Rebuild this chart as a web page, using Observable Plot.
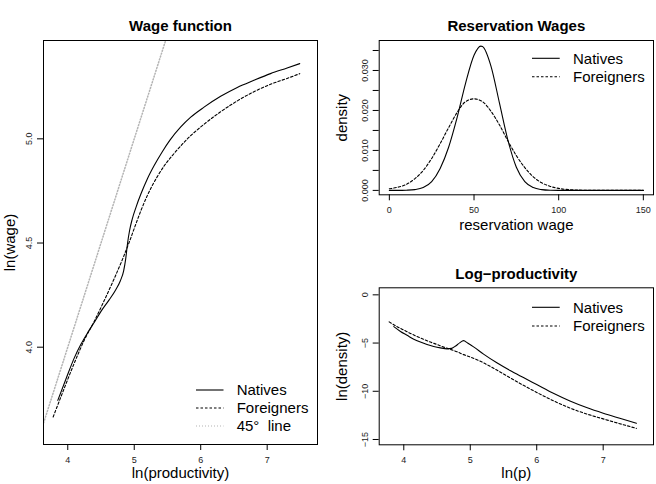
<!DOCTYPE html>
<html>
<head>
<meta charset="utf-8">
<script src="https://cdn.jsdelivr.net/npm/d3@7"></script>
<script src="https://cdn.jsdelivr.net/npm/@observablehq/plot@0.6"></script>
<style>
  body { margin: 0; background: #fff; }
  #fig { position: relative; width: 656px; height: 484px; overflow: hidden; background: #fff; }
  #fig svg { position: absolute; }
</style>
</head>
<body>
<div id="fig"></div>
<script>
// ---- Wage function: ln(wage) against ln(productivity) ----
const wageLnpNatives = [3.85, 3.97, 4.1, 4.2, 4.3, 4.4, 4.5, 4.62, 4.72, 4.79, 4.84, 4.87, 4.9, 4.93, 4.97, 5.03, 5.1, 5.2, 5.3, 5.42, 5.54, 5.7, 5.85, 6.05, 6.3, 6.55, 6.8, 7.05, 7.3, 7.49];
const wageLnwNatives = [3.745, 3.845, 3.95, 4.015, 4.07, 4.12, 4.172, 4.226, 4.275, 4.318, 4.365, 4.42, 4.50, 4.56, 4.615, 4.675, 4.735, 4.81, 4.872, 4.937, 4.995, 5.057, 5.104, 5.152, 5.204, 5.247, 5.281, 5.313, 5.34, 5.361];
const wageLnpForeigners = [3.78, 3.95, 4.1, 4.25, 4.4, 4.55, 4.7, 4.84, 4.92, 5.0, 5.1, 5.2, 5.34, 5.45, 5.6, 5.8, 6.05, 6.3, 6.55, 6.8, 7.05, 7.3, 7.49];
const wageLnwForeigners = [3.665, 3.805, 3.925, 4.035, 4.125, 4.225, 4.33, 4.435, 4.5, 4.57, 4.655, 4.73, 4.815, 4.87, 4.93, 5.0, 5.07, 5.13, 5.182, 5.226, 5.262, 5.29, 5.313];
const diagonalEnds = [3.5, 5.6];          // 45-degree line, y = x
const lnpTicks = [4, 5, 6, 7];
const lnwTicks = [4.0, 4.5, 5.0];

// ---- Reservation wage densities ----
const resWageNatives = [0, 5, 10, 15, 20, 25, 30, 35, 40, 45, 50, 54, 55, 60, 65, 70, 75, 80, 85, 90, 95, 100, 110, 120, 130, 140, 150];
const densNatives = [0, 0, 0.00005, 0.0002, 0.0007, 0.0022, 0.0055, 0.0108, 0.0182, 0.0268, 0.0338, 0.0361, 0.0360, 0.0311, 0.0219, 0.0126, 0.0058, 0.0022, 0.0007, 0.0002, 0.00004, 0, 0, 0, 0, 0, 0];
const resWageForeigners = [0, 5, 10, 15, 20, 25, 30, 35, 40, 45, 50, 55, 60, 65, 70, 75, 80, 85, 90, 95, 100, 110, 120, 130, 140, 150];
const densForeigners = [0.0004, 0.0008, 0.0015, 0.0029, 0.0050, 0.0080, 0.0117, 0.0157, 0.0195, 0.0222, 0.0229, 0.0222, 0.0198, 0.0164, 0.0124, 0.0087, 0.0057, 0.0034, 0.0019, 0.0010, 0.0005, 0.0001, 0, 0, 0, 0];
const resWageTicks = [0, 50, 100, 150];
const densTicks = [0, 0.005, 0.010, 0.015, 0.020, 0.025, 0.030, 0.035];
const densTickLabels = [0, 0.010, 0.020, 0.030];

// ---- Log-productivity densities ----
const lnpNatives = [3.85, 3.95, 4.05, 4.15, 4.25, 4.35, 4.45, 4.55, 4.65, 4.72, 4.78, 4.84, 4.9, 4.96, 5.05, 5.2, 5.4, 5.6, 5.8, 6.0, 6.25, 6.5, 6.75, 7.0, 7.25, 7.5];
const lnDensNatives = [-3.3, -3.8, -4.2, -4.6, -4.9, -5.15, -5.35, -5.5, -5.6, -5.55, -5.3, -4.98, -4.75, -5.0, -5.4, -6.15, -7.05, -7.85, -8.58, -9.3, -10.2, -11.0, -11.68, -12.27, -12.8, -13.32];
const lnpForeigners = [3.78, 3.9, 4.0, 4.1, 4.2, 4.3, 4.4, 4.5, 4.6, 4.7, 4.8, 4.9, 5.0, 5.1, 5.2, 5.3, 5.4, 5.6, 5.8, 6.0, 6.25, 6.5, 6.75, 7.0, 7.25, 7.5];
const lnDensForeigners = [-2.8, -3.3, -3.65, -4.0, -4.32, -4.62, -4.9, -5.15, -5.42, -5.65, -5.9, -6.2, -6.45, -6.72, -7.05, -7.42, -7.8, -8.6, -9.38, -10.12, -10.98, -11.74, -12.35, -12.86, -13.36, -13.85];
const lnDensTicks = [0, -5, -10, -15];

const groups = ["Natives", "Foreigners"];
const wageLegend = ["Natives", "Foreigners", "45\u00B0\u00A0\u00A0line"];

const zip = (xs, ys) => xs.map((x, i) => ({x, y: ys[i]}));
const font = '"Liberation Sans", Arial, Helvetica, sans-serif';
const dash = "2.5,2";
const dots = "1,2";
const minus = (s) => s.replace("-", "\u2212");
const common = {style: {fontFamily: font, background: "transparent", color: "#000", overflow: "visible"}};

function tickMarks(xTicks, yTicks, yLabels, yFormat, yLabelDx) {
  return [
    Plot.axisX(xTicks, {tickSize: 6, tickPadding: 6, fontSize: 9, label: null, tickFormat: d => minus(String(d)), fill: "#222"}),
    Plot.axisY(yTicks, {tickSize: 6, label: null, tickFormat: () => ""}),
    Plot.text(yLabels, {y: d => d, text: yFormat, frameAnchor: "left", textAnchor: "middle", dx: yLabelDx, rotate: -90, fontSize: 9, fill: "#222"})
  ];
}

function titles(title, xLabel, yLabel, titleDy, xLabelDy, yLabelDx) {
  return [
    Plot.text([title], {text: d => d, frameAnchor: "top", dy: titleDy, fontSize: 15, fontWeight: "bold"}),
    Plot.text([xLabel], {text: d => d, frameAnchor: "bottom", dy: xLabelDy, fontSize: 15}),
    Plot.text([yLabel], {text: d => d, frameAnchor: "left", textAnchor: "middle", dx: yLabelDx, rotate: -90, fontSize: 15})
  ];
}

const fig = document.getElementById("fig");

// Left panel: wage function
const wagePlot = Plot.plot({
  ...common,
  width: 328, height: 484,
  marginTop: 40, marginRight: 11, marginBottom: 40, marginLeft: 43,
  x: {domain: [3.635, 7.757]},
  y: {domain: [3.533, 5.472]},
  marks: [
    Plot.line(zip(diagonalEnds, diagonalEnds), {x: "x", y: "y", stroke: "#b4b4b4", strokeDasharray: dots, clip: true}),
    Plot.line(zip(wageLnpForeigners, wageLnwForeigners), {x: "x", y: "y", stroke: "#000", strokeWidth: 1.1, strokeDasharray: dash, curve: "monotone-x"}),
    Plot.line(zip(wageLnpNatives, wageLnwNatives), {x: "x", y: "y", stroke: "#000", strokeWidth: 1.1, curve: "monotone-x"}),
    Plot.frame({stroke: "#000"}),
    ...tickMarks(lnpTicks, lnwTicks, lnwTicks, d => d.toFixed(1), -14),
    ...titles("Wage function", "ln(productivity)", "ln(wage)", -20, 33, -33)
  ]
});
wagePlot.style.left = "0px"; wagePlot.style.top = "0px";
fig.appendChild(wagePlot);

// Top right: reservation wage densities
const resPlot = Plot.plot({
  ...common,
  width: 328, height: 250,
  marginTop: 40, marginRight: 3, marginBottom: 55.7, marginLeft: 50.7,
  x: {domain: [-6, 156]},
  y: {domain: [-0.0011, 0.0375]},
  marks: [
    Plot.line(zip(resWageForeigners, densForeigners), {x: "x", y: "y", stroke: "#000", strokeWidth: 1.1, strokeDasharray: dash, curve: "monotone-x"}),
    Plot.line(zip(resWageNatives, densNatives), {x: "x", y: "y", stroke: "#000", strokeWidth: 1.1, curve: "monotone-x"}),
    Plot.frame({stroke: "#000"}),
    ...tickMarks(resWageTicks, densTicks, densTickLabels, d => d.toFixed(3), -14.5),
    ...titles("Reservation Wages", "reservation wage", "density", -20, 35, -37)
  ]
});
resPlot.style.left = "328px"; resPlot.style.top = "0px";
fig.appendChild(resPlot);

// Bottom right: log-productivity densities
const lnpPlot = Plot.plot({
  ...common,
  width: 328, height: 234,
  marginTop: 37.3, marginRight: 3, marginBottom: 39.7, marginLeft: 50.7,
  x: {domain: [3.63, 7.757]},
  y: {domain: [-15.55, 0.73]},
  marks: [
    Plot.line(zip(lnpForeigners, lnDensForeigners), {x: "x", y: "y", stroke: "#000", strokeWidth: 1.1, strokeDasharray: dash, curve: "monotone-x"}),
    Plot.line(zip(lnpNatives, lnDensNatives), {x: "x", y: "y", stroke: "#000", strokeWidth: 1.1, curve: "monotone-x"}),
    Plot.frame({stroke: "#000"}),
    ...tickMarks(lnpTicks, lnDensTicks, lnDensTicks, d => minus(String(d)), -14),
    ...titles("Log\u2212productivity", "ln(p)", "ln(density)", -19, 33, -37)
  ]
});
lnpPlot.style.left = "328px"; lnpPlot.style.top = "250px";
fig.appendChild(lnpPlot);

// Legends (line key + label), one block per panel
const legendSvg = d3.select(fig).append("svg")
  .attr("width", 656).attr("height", 484)
  .style("left", "0px").style("top", "0px")
  .style("font-family", font).style("font-size", "15px");

function legend(labels, styles, x0, x1, tx, y0, step) {
  labels.forEach((label, i) => {
    const y = y0 + i * step;
    legendSvg.append("line")
      .attr("x1", x0).attr("x2", x1).attr("y1", y).attr("y2", y)
      .attr("stroke", styles[i].stroke).attr("stroke-width", 1.1)
      .attr("stroke-dasharray", styles[i].dash);
    legendSvg.append("text")
      .attr("x", tx).attr("y", y).attr("dy", "0.35em")
      .attr("fill", "#000").style("white-space", "pre")
      .text(label);
  });
}
const solidStyle = {stroke: "#000", dash: null};
const dashStyle = {stroke: "#000", dash: dash};
const dotStyle = {stroke: "#b4b4b4", dash: dots};
legend(wageLegend, [solidStyle, dashStyle, dotStyle], 196, 223.5, 236.7, 390, 18);
legend(groups, [solidStyle, dashStyle], 532, 559.7, 573, 58.3, 18.4);
legend(groups, [solidStyle, dashStyle], 532, 559.7, 573, 307.3, 18.7);
</script>
</body>
</html>
